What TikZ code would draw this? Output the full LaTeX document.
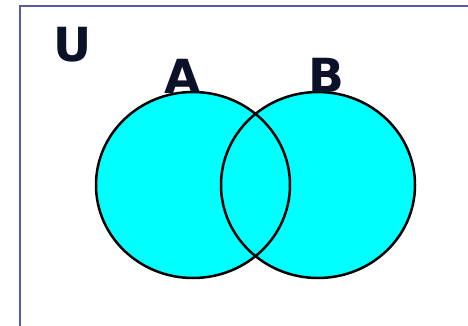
\documentclass[tikz,border=0pt]{standalone}
\usepackage{fontspec}
\setmainfont{DejaVu Sans}
\usetikzlibrary{positioning}

\definecolor{framecol}{HTML}{5A5AA0}
\definecolor{textcol}{HTML}{0B1128}
\definecolor{setcol}{HTML}{00FFFF}

\begin{document}
\begin{tikzpicture}[
  x=1pt, y=1pt,
  frame/.style={draw=framecol, line width=2.5pt},
  setfill/.style={fill=setcol},
  setline/.style={draw=black, line width=2.5pt},
  lbl/.style={inner sep=0pt, text=textcol, font=\fontsize{47}{47}\selectfont\bfseries}
]
\useasboundingbox (0,0) rectangle (468,325);
\clip (0,0) rectangle (468,325);

% universe
\draw[frame] (20,-10) rectangle (480,319);

% the two sets
\coordinate (cA) at (193,140);
\coordinate (cB) at (318,140);
\fill[setfill] (cA) ellipse [x radius=97, y radius=93];
\fill[setfill] (cB) ellipse [x radius=97, y radius=93];
\draw[setline] (cA) ellipse [x radius=97, y radius=93];
\draw[setline] (cB) ellipse [x radius=97, y radius=93];

% labels
\node[lbl] (U) at (73,280) {U};
\node[lbl] (A) at (183,249) {A};
\node[lbl] (B) at (326,250) {B};

\end{tikzpicture}
\end{document}
